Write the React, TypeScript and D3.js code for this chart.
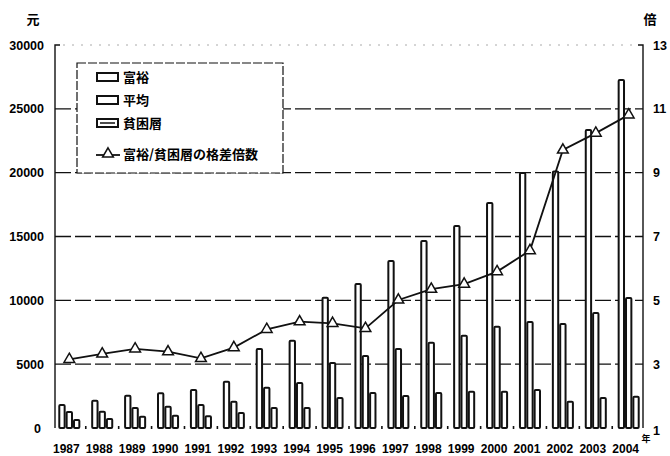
import React, { useEffect, useRef } from "react";
import * as d3 from "d3";

const W = 670;
const H = 456;

// 年
const years = [
  "1987", "1988", "1989", "1990", "1991", "1992", "1993", "1994", "1995",
  "1996", "1997", "1998", "1999", "2000", "2001", "2002", "2003", "2004",
];
// 富裕 (元)
const richIncome = [
  1800, 2140, 2530, 2720, 2980, 3630, 6190, 6840, 10200, 11280, 13080, 14640,
  15820, 17620, 19970, 20100, 23340, 27250,
];
// 平均 (元)
const avgIncome = [
  1250, 1280, 1560, 1670, 1800, 2060, 3160, 3520, 5090, 5640, 6190, 6680,
  7230, 7930, 8300, 8150, 9000, 10180,
];
// 貧困層 (元)
const poorIncome = [
  630, 700, 890, 960, 920, 1170, 1560, 1560, 2350, 2740, 2500, 2740, 2840,
  2840, 2980, 2060, 2350, 2450,
];
// 富裕/貧困層の格差倍数 (倍)
const gapRatio = [
  3.15, 3.32, 3.48, 3.39, 3.18, 3.52, 4.09, 4.33, 4.28, 4.12, 5.01, 5.35, 5.51,
  5.9, 6.56, 9.71, 10.24, 10.81,
];
const leftTicks = [0, 5000, 10000, 15000, 20000, 25000, 30000];
const rightTicks = [1, 3, 5, 7, 9, 11, 13];
const legendLabels = ["富裕", "平均", "貧困層", "富裕/貧困層の格差倍数"];

const NUM_FONT = "'Liberation Sans', Arial, sans-serif";
const CJK_FONT = "'Noto Sans CJK JP', 'Noto Sans CJK SC', sans-serif";

export default function App() {
  const svgRef = useRef<SVGSVGElement | null>(null);

  useEffect(() => {
    document.body.style.margin = "0";
    const svg = d3.select(svgRef.current);
    svg.selectAll("*").remove();

    const m = { left: 55, right: 643, top: 45, bottom: 428 };

    const x = d3
      .scaleBand<string>()
      .domain(years)
      .range([m.left, m.right])
      .paddingInner(0.33)
      .paddingOuter(0.1);
    const xs = d3
      .scaleBand<string>()
      .domain(["rich", "avg", "poor"])
      .range([0, x.bandwidth()]);
    const yL = d3.scaleLinear().domain([0, 30000]).range([m.bottom, m.top]);
    const yR = d3.scaleLinear().domain([1, 13]).range([m.bottom, m.top]);

    svg.append("rect").attr("width", W).attr("height", H).attr("fill", "#fff");

    // グリッド
    svg
      .append("g")
      .selectAll("line")
      .data(leftTicks.filter((t) => t > 0 && t < 30000))
      .join("line")
      .attr("x1", m.left)
      .attr("x2", m.right)
      .attr("y1", (d) => yL(d))
      .attr("y2", (d) => yL(d))
      .attr("stroke", "#111")
      .attr("stroke-width", 1.4)
      .attr("stroke-dasharray", "16,4");
    svg
      .append("line")
      .attr("x1", m.left + 8)
      .attr("x2", m.right - 8)
      .attr("y1", yL(30000))
      .attr("y2", yL(30000))
      .attr("stroke", "#aaa")
      .attr("stroke-width", 1)
      .attr("stroke-dasharray", "2,7");

    // 軸線
    const axes = svg.append("g").attr("stroke", "#111").attr("stroke-width", 1.4).attr("fill", "none");
    axes.append("path").attr("d", `M${m.left + 5},${m.top} H${m.left} V${m.bottom}`);
    axes.append("path").attr("d", `M${m.right - 5},${m.top} H${m.right} V${m.bottom}`);

    // 軸ラベル
    svg
      .append("g")
      .selectAll("text")
      .data(leftTicks)
      .join("text")
      .attr("x", (d) => (d === 0 ? 41 : 44))
      .attr("y", (d) => yL(d) + 4.5)
      .attr("text-anchor", "end")
      .attr("font-family", NUM_FONT)
      .attr("font-weight", 700)
      .attr("font-size", 12.5)
      .text((d) => d);
    svg
      .append("g")
      .selectAll("text")
      .data(rightTicks)
      .join("text")
      .attr("x", 653)
      .attr("y", (d) => yR(d) + (d === 1 ? 7 : 4.5))
      .attr("text-anchor", "start")
      .attr("font-family", NUM_FONT)
      .attr("font-weight", 700)
      .attr("font-size", 12.5)
      .text((d) => d);
    svg
      .append("text")
      .attr("x", 33)
      .attr("y", 24)
      .attr("text-anchor", "middle")
      .attr("font-family", CJK_FONT)
      .attr("font-weight", 700)
      .attr("font-size", 13)
      .text("元");
    svg
      .append("text")
      .attr("x", 650)
      .attr("y", 24)
      .attr("text-anchor", "middle")
      .attr("font-family", CJK_FONT)
      .attr("font-weight", 700)
      .attr("font-size", 13)
      .text("倍");

    // 年ラベル
    svg
      .append("g")
      .selectAll("text")
      .data(years)
      .join("text")
      .attr("x", (d) => (x(d) ?? 0) + x.bandwidth() / 2 - 3)
      .attr("y", 453)
      .attr("text-anchor", "middle")
      .attr("font-family", NUM_FONT)
      .attr("font-weight", 700)
      .attr("font-size", 12)
      .text((d) => d);
    svg
      .append("text")
      .attr("x", 646)
      .attr("y", 442)
      .attr("text-anchor", "middle")
      .attr("font-family", CJK_FONT)
      .attr("font-weight", 700)
      .attr("font-size", 9)
      .text("年");

    // 棒
    const rows = years.map((yr, i) => ({
      yr,
      vals: [
        { k: "rich", v: richIncome[i] },
        { k: "avg", v: avgIncome[i] },
        { k: "poor", v: poorIncome[i] },
      ],
    }));
    svg
      .append("g")
      .selectAll("g")
      .data(rows)
      .join("g")
      .attr("transform", (d) => `translate(${x(d.yr)},0)`)
      .selectAll("rect")
      .data((d) => d.vals)
      .join("rect")
      .attr("x", (d) => (xs(d.k) ?? 0) + 1)
      .attr("y", (d) => yL(d.v))
      .attr("width", xs.bandwidth() - 2)
      .attr("height", (d) => yL(0) - yL(d.v))
      .attr("rx", 1)
      .attr("fill", "#fff")
      .attr("stroke", "#111")
      .attr("stroke-width", 2);

    // 基線の小目盛り
    const step = x.step();
    svg
      .append("g")
      .selectAll("line")
      .data(years.slice(1))
      .join("line")
      .attr("x1", (d) => (x(d) ?? 0) - (step - x.bandwidth()) / 2)
      .attr("x2", (d) => (x(d) ?? 0) - (step - x.bandwidth()) / 2)
      .attr("y1", m.bottom - 2)
      .attr("y2", m.bottom + 1)
      .attr("stroke", "#111")
      .attr("stroke-width", 1.6);

    // 格差倍数の折れ線
    const cx = (yr: string) => (x(yr) ?? 0) + x.bandwidth() / 2;
    const line = d3
      .line<number>()
      .x((_, i) => cx(years[i]))
      .y((d) => yR(d));
    svg
      .append("path")
      .datum(gapRatio)
      .attr("d", line)
      .attr("fill", "none")
      .attr("stroke", "#111")
      .attr("stroke-width", 1.8);
    const tri = d3.symbol().type(d3.symbolTriangle).size(50);
    svg
      .append("g")
      .selectAll("path")
      .data(gapRatio)
      .join("path")
      .attr("d", tri)
      .attr("transform", (d, i) => `translate(${cx(years[i])},${yR(d)})`)
      .attr("fill", "#fff")
      .attr("stroke", "#111")
      .attr("stroke-width", 1.5);

    // 凡例
    const lg = svg.append("g").attr("transform", "translate(77,63)");
    lg.append("rect")
      .attr("width", 206)
      .attr("height", 110)
      .attr("fill", "#fff")
      .attr("stroke", "#111")
      .attr("stroke-width", 1.2)
      .attr("stroke-dasharray", "9,2");
    const itemY = [14, 37, 60, 91];
    legendLabels.forEach((lab, i) => {
      const yy = itemY[i];
      if (i < 3) {
        lg.append("rect")
          .attr("x", 20)
          .attr("y", yy - 4)
          .attr("width", 21)
          .attr("height", 8)
          .attr("fill", "#fff")
          .attr("stroke", "#111")
          .attr("stroke-width", 2);
        if (i === 2) {
          lg.append("line")
            .attr("x1", 23)
            .attr("x2", 38)
            .attr("y1", yy)
            .attr("y2", yy)
            .attr("stroke", "#111")
            .attr("stroke-width", 1.5);
        }
      } else {
        lg.append("line")
          .attr("x1", 19)
          .attr("x2", 43)
          .attr("y1", yy + 1)
          .attr("y2", yy + 1)
          .attr("stroke", "#111")
          .attr("stroke-width", 1.8);
        lg.append("path")
          .attr("d", tri)
          .attr("transform", `translate(31,${yy})`)
          .attr("fill", "#fff")
          .attr("stroke", "#111")
          .attr("stroke-width", 1.5);
      }
      lg.append("text")
        .attr("x", 46)
        .attr("y", yy + 5)
        .attr("font-family", CJK_FONT)
        .attr("font-weight", 700)
        .attr("font-size", 13)
        .text(lab);
    });
  }, []);

  return (
    <div style={{ width: W, height: H }}>
      <svg ref={svgRef} width={W} height={H} />
    </div>
  );
}
